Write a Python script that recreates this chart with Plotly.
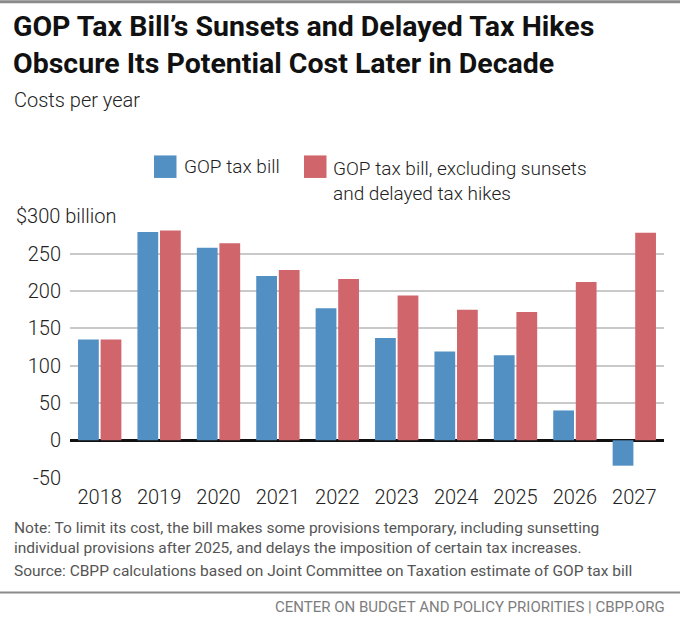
import plotly.graph_objects as go

years = ["2018", "2019", "2020", "2021", "2022", "2023", "2024", "2025", "2026", "2027"]
gop_bill = [135, 279, 258, 220, 177, 137, 119, 114, 40, -34]
gop_excl = [135, 281, 264, 228, 216, 194, 175, 172, 212, 278]
tick_vals = [-50, 0, 50, 100, 150, 200, 250, 300]
tick_text = ["-50", "0", "50", "100", "150", "200", "250", ""]
series_names = ["GOP tax bill", "GOP tax bill, excluding sunsets<br>and delayed tax hikes"]

BLUE = "#5290c3"
RED = "#d0666c"
W, H = 680, 621
L, R, T, B = 70, 664, 216, 477.7


def px(x):
    return (x - L) / (R - L)


def py(y):
    return (B - y) / (B - T)


fig = go.Figure()
fig.add_trace(go.Bar(x=years, y=gop_bill, name=series_names[0], marker_color=BLUE,
                     marker_line_width=0, showlegend=False))
fig.add_trace(go.Bar(x=years, y=gop_excl, name=series_names[1], marker_color=RED,
                     marker_line_width=0, showlegend=False))

FAM = "Roboto, Arial, sans-serif"
TICKFONT = dict(family=FAM, size=20, color="#222", weight=300)

fig.update_layout(
    width=W, height=H,
    margin=dict(l=L, r=W - R, t=T, b=H - B, pad=0),
    paper_bgcolor="white", plot_bgcolor="white",
    barmode="group", bargap=0.24, bargroupgap=0.08,
    showlegend=False,
    xaxis=dict(showgrid=False, showline=False, ticks="", tickfont=TICKFONT,
               ticklabelstandoff=5, fixedrange=True),
    yaxis=dict(range=[-50.5, 300.5], tickvals=tick_vals, ticktext=tick_text,
               showgrid=True, gridcolor="#c9c9c9", gridwidth=1.5,
               zeroline=True, zerolinecolor="#111", zerolinewidth=2.5,
               showline=False, ticks="", tickfont=TICKFONT, ticklabelstandoff=8,
               fixedrange=True),
)

ann = []
# Title
ann.append(dict(text="<b>GOP Tax Bill’s Sunsets and Delayed Tax Hikes<br>Obscure Its Potential Cost Later in Decade</b>",
                xref="paper", yref="paper", x=px(11), y=py(45), xanchor="left", yanchor="middle",
                align="left", showarrow=False,
                font=dict(family=FAM, size=28.5, color="#111")))
# Subtitle
ann.append(dict(text="Costs per year", xref="paper", yref="paper", x=px(12), y=py(100),
                xanchor="left", yanchor="middle", showarrow=False,
                font=dict(family=FAM, size=20, color="#222", weight=300)))
# $300 billion label covering gridline start
ann.append(dict(text="$300 billion", xref="paper", yref="y", x=px(14), y=300,
                xanchor="left", yanchor="middle", showarrow=False, align="left",
                width=112, bgcolor="white", borderpad=1,
                font=TICKFONT))
# Legend labels
LEGFONT = dict(family=FAM, size=19, color="#222", weight=300)
ann.append(dict(text=series_names[0], xref="paper", yref="paper", x=px(182), y=py(167),
                xanchor="left", yanchor="middle", showarrow=False, font=LEGFONT))
ann.append(dict(text=series_names[1], xref="paper", yref="paper", x=px(331), y=py(181),
                xanchor="left", yanchor="middle", showarrow=False, align="left", font=LEGFONT))
# Notes
NOTEFONT = dict(family=FAM, size=15.5, color="#555")
ann.append(dict(text="Note: To limit its cost, the bill makes some provisions temporary, including sunsetting<br>individual provisions after 2025, and delays the imposition of certain tax increases.",
                xref="paper", yref="paper", x=px(12), y=py(538), xanchor="left", yanchor="middle",
                align="left", showarrow=False, font=NOTEFONT))
ann.append(dict(text="Source: CBPP calculations based on Joint Committee on Taxation estimate of GOP tax bill",
                xref="paper", yref="paper", x=px(12), y=py(571), xanchor="left", yanchor="middle",
                align="left", showarrow=False, font=NOTEFONT))
ann.append(dict(text="CENTER ON BUDGET AND POLICY PRIORITIES | CBPP.ORG",
                xref="paper", yref="paper", x=px(667), y=py(607), xanchor="right", yanchor="middle",
                showarrow=False,
                font=dict(family=FAM, size=15, color="#7d7d7d")))

shapes = [
    dict(type="rect", xref="paper", yref="paper", x0=px(154), x1=px(176.5), y0=py(178), y1=py(155.5),
         fillcolor=BLUE, line_width=0),
    dict(type="rect", xref="paper", yref="paper", x0=px(304), x1=px(326.5), y0=py(178), y1=py(155.5),
         fillcolor=RED, line_width=0),
    dict(type="line", xref="paper", yref="paper", x0=px(0), x1=px(680), y0=py(2), y1=py(2),
         line=dict(color="#8a8a8a", width=3)),
    dict(type="line", xref="paper", yref="paper", x0=px(0), x1=px(680), y0=py(592), y1=py(592),
         line=dict(color="#8a8a8a", width=2)),
]

fig.update_layout(annotations=ann, shapes=shapes)
fig.write_html("out.html", post_script="document.body.style.margin='0px';",
               config={"displayModeBar": False})
